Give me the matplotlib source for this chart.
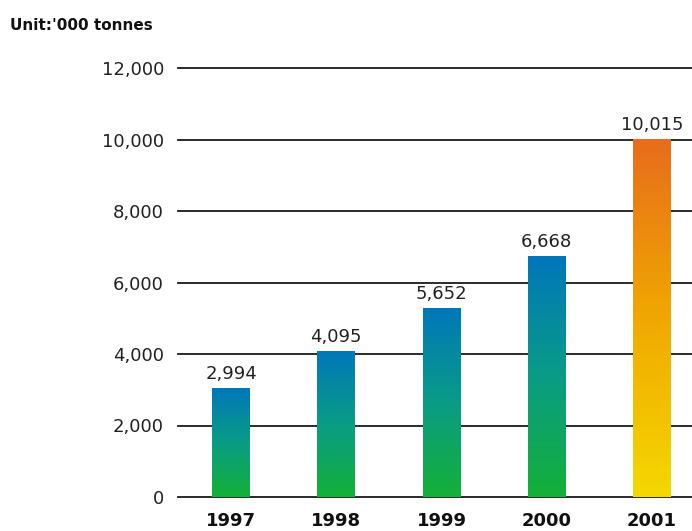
import numpy as np
import matplotlib
matplotlib.use('agg')
import matplotlib.pyplot as plt
from matplotlib.colors import LinearSegmentedColormap

plt.rcParams['font.family'] = ['DejaVu Sans']

# 数据
years = ['1997', '1998', '1999', '2000', '2001']
bar_heights = [3050, 4085, 5290, 6740, 10015]   # 图上柱子的实际高度
value_labels = ['2,994', '4,095', '5,652', '6,668', '10,015']
yticks = [0, 2000, 4000, 6000, 8000, 10000, 12000]
ytick_labels = ['0', '2,000', '4,000', '6,000', '8,000', '10,000', '12,000']

# 渐变色（自下而上）
cmap_blue = LinearSegmentedColormap.from_list('bg', ['#14b037', '#0a9c86', '#0077bb'])
cmap_orange = LinearSegmentedColormap.from_list('oy', ['#f5d800', '#f0a800', '#e86c1c'])

fig = plt.figure(figsize=(6.92, 5.31), dpi=100)
ax = fig.add_axes([178 / 692, 1 - 497 / 531, 1 - 178 / 692, (497 - 68) / 531])

x = np.arange(len(years))
width = 0.36
bars = ax.bar(x, bar_heights, width, facecolor='none', edgecolor='none', zorder=3)

grad = np.linspace(0, 1, 256).reshape(-1, 1)
for i, b in enumerate(bars):
    cm = cmap_orange if i == len(bars) - 1 else cmap_blue
    x0 = b.get_x()
    im = ax.imshow(grad, cmap=cm, origin='lower', aspect='auto',
                   extent=[x0, x0 + b.get_width(), 0, b.get_height()], zorder=3)
    im.set_clip_path(b)
    ax.text(b.get_x() + b.get_width() / 2, b.get_height() + 150, value_labels[i],
            ha='center', va='bottom', fontsize=13, color='#222222', zorder=4)

ax.set_xlim(-0.504, 4.38)
ax.set_ylim(0, 12000)
ax.set_yticks(yticks)
ax.set_yticklabels(ytick_labels, fontsize=13, color='#222222')
ax.set_xticks(x)
ax.set_xticklabels(years, fontsize=13, fontweight='bold', color='#111111')
ax.tick_params(axis='both', length=0)
ax.tick_params(axis='y', pad=10)
ax.tick_params(axis='x', pad=11)
ax.yaxis.grid(True, color='#1a1a1a', linewidth=1.3, zorder=1)
for gl in ax.get_ygridlines():
    gl.set_clip_on(False)
ax.set_axisbelow(True)
for s in ax.spines.values():
    s.set_visible(False)

fig.text(10 / 692, 1 - 26 / 531, "Unit:'000 tonnes", fontsize=11, fontweight='bold',
         ha='left', va='center', color='#111111')

fig.savefig('out.png', dpi=100)
